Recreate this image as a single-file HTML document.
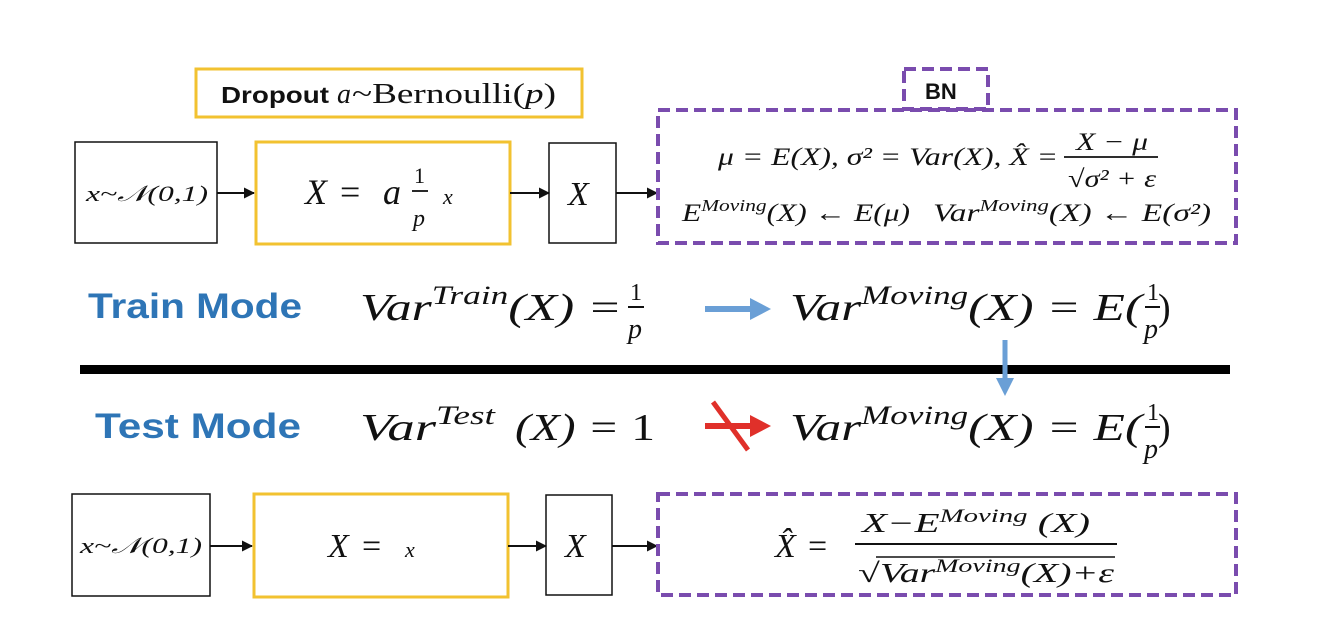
<!DOCTYPE html>
<html><head><meta charset="utf-8"><style>
html,body{margin:0;padding:0;background:#fff;}
svg{display:block;}
.m{font-family:"Liberation Serif",serif;font-style:italic;fill:#111;}
.u{font-family:"Liberation Serif",serif;font-style:normal;fill:#111;}
.b{font-family:"Liberation Sans",sans-serif;font-weight:bold;}
</style></head><body>
<svg width="1324" height="618" viewBox="0 0 1324 618" xmlns="http://www.w3.org/2000/svg">
<defs>
<marker id="ah" markerWidth="11" markerHeight="11" refX="10" refY="5.5" orient="auto" markerUnits="userSpaceOnUse"><path d="M0,0 L11,5.5 L0,11 z" fill="#111"/></marker>
</defs>
<!-- Dropout label -->
<rect x="196" y="69" width="386" height="48" fill="none" stroke="#f2c230" stroke-width="3"/>
<text x="221" y="103" class="b" font-size="23" fill="#111" textLength="108" lengthAdjust="spacingAndGlyphs">Dropout</text>
<text x="337" y="103" class="m" font-size="28">a</text>
<text x="352" y="103" class="u" font-size="28" textLength="204" lengthAdjust="spacingAndGlyphs">~Bernoulli(<tspan class="m">p</tspan>)</text>
<!-- BN label -->
<rect x="904" y="69" width="84" height="40" fill="none" stroke="#7a4cae" stroke-width="4" stroke-dasharray="12,6"/>
<text x="925" y="99" class="b" font-size="22" fill="#111">BN</text>

<!-- Top row -->
<rect x="75" y="142" width="142" height="101" fill="none" stroke="#111" stroke-width="1.5"/>
<text x="86" y="201" class="m" font-size="22" textLength="122" lengthAdjust="spacingAndGlyphs">x~𝒩(0,1)</text>
<line x1="217" y1="193" x2="254" y2="193" stroke="#111" stroke-width="2" marker-end="url(#ah)"/>
<rect x="256" y="142" width="254" height="102" fill="none" stroke="#f2c230" stroke-width="3"/>
<text x="305" y="204" class="m" font-size="36">X</text>
<text x="340" y="204" class="u" font-size="36">=</text>
<text x="383" y="204" class="m" font-size="36">a</text>
<text x="414" y="183" class="u" font-size="22">1</text>
<line x1="412" y1="191" x2="428" y2="191" stroke="#111" stroke-width="1.8"/>
<text x="413" y="226" class="m" font-size="24">p</text>
<text x="443" y="204" class="m" font-size="22">x</text>
<line x1="510" y1="193" x2="549" y2="193" stroke="#111" stroke-width="2" marker-end="url(#ah)"/>
<rect x="549" y="143" width="67" height="100" fill="none" stroke="#111" stroke-width="1.5"/>
<text x="568" y="205" class="m" font-size="34">X</text>
<line x1="616" y1="193" x2="657" y2="193" stroke="#111" stroke-width="2" marker-end="url(#ah)"/>
<rect x="658" y="110" width="578" height="133" fill="none" stroke="#7a4cae" stroke-width="4" stroke-dasharray="12,6"/>
<text x="718" y="165" class="m" font-size="25" textLength="340" lengthAdjust="spacingAndGlyphs">μ = E(X), σ² = Var(X), X̂ =</text>
<text x="1076" y="150" class="m" font-size="25" textLength="72" lengthAdjust="spacingAndGlyphs">X − μ</text>
<line x1="1064" y1="157" x2="1158" y2="157" stroke="#111" stroke-width="1.8"/>
<text x="1068" y="187" class="m" font-size="25" textLength="88" lengthAdjust="spacingAndGlyphs">√σ² + ε</text>
<text x="682" y="221" class="m" font-size="25" textLength="228" lengthAdjust="spacingAndGlyphs">E<tspan font-size="17" dy="-10">Moving</tspan><tspan dy="10">(X) ← E(μ)</tspan></text>
<text x="933" y="221" class="m" font-size="25" textLength="278" lengthAdjust="spacingAndGlyphs">Var<tspan font-size="17" dy="-10">Moving</tspan><tspan dy="10">(X) ← E(σ²)</tspan></text>

<!-- Train mode -->
<text x="88" y="318" class="b" font-size="35" fill="#2e75b6" textLength="214" lengthAdjust="spacingAndGlyphs">Train Mode</text>
<text x="360" y="320" class="m" font-size="38" textLength="262" lengthAdjust="spacingAndGlyphs">Var<tspan font-size="26" dy="-16">Train</tspan><tspan dy="16">(X) =</tspan></text>
<text x="630" y="300" class="u" font-size="24">1</text>
<line x1="628" y1="307" x2="644" y2="307" stroke="#111" stroke-width="2"/>
<text x="628" y="338" class="m" font-size="28">p</text>
<line x1="705" y1="309" x2="752" y2="309" stroke="#6a9fd6" stroke-width="6"/>
<path d="M750,298 L771,309 L750,320 z" fill="#6a9fd6"/>
<text x="790" y="320" class="m" font-size="38" textLength="352" lengthAdjust="spacingAndGlyphs">Var<tspan font-size="26" dy="-16">Moving</tspan><tspan dy="16">(X) = E(</tspan></text>
<text x="1147" y="300" class="u" font-size="24">1</text>
<line x1="1145" y1="307" x2="1160" y2="307" stroke="#111" stroke-width="2"/>
<text x="1144" y="338" class="m" font-size="28">p</text>
<text x="1158" y="320" class="u" font-size="38">)</text>

<!-- divider -->
<rect x="80" y="365" width="1150" height="9" fill="#000"/>
<line x1="1005" y1="340" x2="1005" y2="380" stroke="#6a9fd6" stroke-width="5"/>
<path d="M996,378 L1005,396 L1014,378 z" fill="#6a9fd6"/>

<!-- Test mode -->
<text x="95" y="438" class="b" font-size="35" fill="#2e75b6" textLength="206" lengthAdjust="spacingAndGlyphs">Test  Mode</text>
<text x="360" y="440" class="m" font-size="38" textLength="135" lengthAdjust="spacingAndGlyphs">Var<tspan font-size="26" dy="-16">Test</tspan></text>
<text x="515" y="440" class="m" font-size="38" textLength="140" lengthAdjust="spacingAndGlyphs">(X) = <tspan class="u">1</tspan></text>
<line x1="705" y1="426" x2="752" y2="426" stroke="#e0302a" stroke-width="6"/>
<path d="M750,415 L771,426 L750,437 z" fill="#e0302a"/>
<line x1="713" y1="402" x2="748" y2="450" stroke="#e0302a" stroke-width="5"/>
<text x="790" y="440" class="m" font-size="38" textLength="352" lengthAdjust="spacingAndGlyphs">Var<tspan font-size="26" dy="-16">Moving</tspan><tspan dy="16">(X) = E(</tspan></text>
<text x="1147" y="420" class="u" font-size="24">1</text>
<line x1="1145" y1="427" x2="1160" y2="427" stroke="#111" stroke-width="2"/>
<text x="1144" y="458" class="m" font-size="28">p</text>
<text x="1158" y="440" class="u" font-size="38">)</text>

<!-- Bottom row -->
<rect x="72" y="494" width="138" height="102" fill="none" stroke="#111" stroke-width="1.5"/>
<text x="80" y="553" class="m" font-size="22" textLength="122" lengthAdjust="spacingAndGlyphs">x~𝒩(0,1)</text>
<line x1="210" y1="546" x2="252" y2="546" stroke="#111" stroke-width="2" marker-end="url(#ah)"/>
<rect x="254" y="494" width="254" height="103" fill="none" stroke="#f2c230" stroke-width="3"/>
<text x="328" y="557" class="m" font-size="34">X</text>
<text x="362" y="557" class="u" font-size="34">=</text>
<text x="405" y="557" class="m" font-size="22">x</text>
<line x1="508" y1="546" x2="546" y2="546" stroke="#111" stroke-width="2" marker-end="url(#ah)"/>
<rect x="546" y="495" width="66" height="100" fill="none" stroke="#111" stroke-width="1.5"/>
<text x="565" y="557" class="m" font-size="34">X</text>
<line x1="612" y1="546" x2="657" y2="546" stroke="#111" stroke-width="2" marker-end="url(#ah)"/>
<rect x="658" y="494" width="578" height="101" fill="none" stroke="#7a4cae" stroke-width="4" stroke-dasharray="12,6"/>
<text x="775" y="557" class="m" font-size="34">X̂</text>
<text x="808" y="557" class="u" font-size="34">=</text>
<text x="862" y="532" class="m" font-size="27" textLength="228" lengthAdjust="spacingAndGlyphs">X−E<tspan font-size="19" dy="-10">Moving</tspan><tspan dy="10"> (X)</tspan></text>
<line x1="855" y1="544" x2="1117" y2="544" stroke="#111" stroke-width="2"/>
<text x="858" y="582" class="m" font-size="27" textLength="256" lengthAdjust="spacingAndGlyphs">√Var<tspan font-size="19" dy="-10">Moving</tspan><tspan dy="10">(X)+ε</tspan></text>
<line x1="876" y1="557" x2="1115" y2="557" stroke="#111" stroke-width="1.5"/>
</svg>
</body></html>
